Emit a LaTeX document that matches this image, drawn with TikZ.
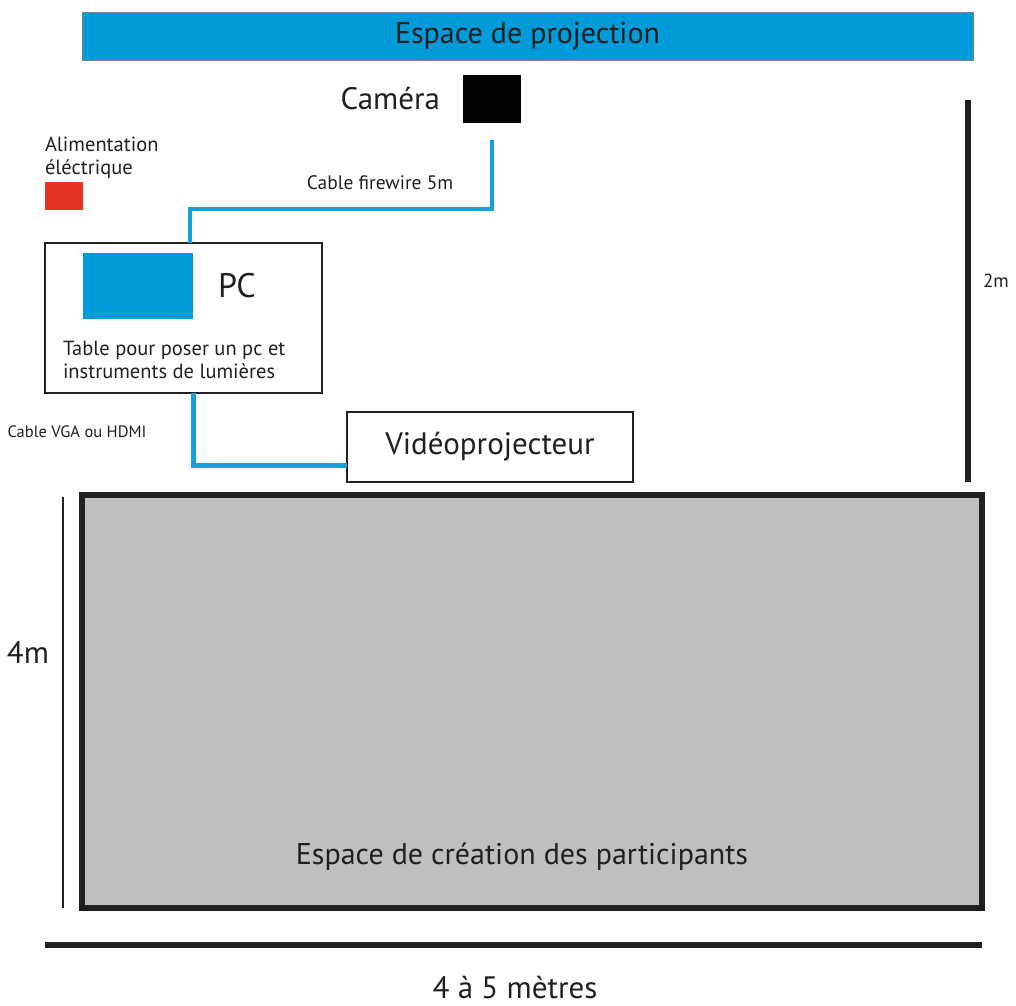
\documentclass[tikz,border=0pt]{standalone}
\usepackage{fontspec}
\setmainfont{PT Sans}
\usetikzlibrary{positioning}
\definecolor{projblue}{RGB}{0,155,216}
\definecolor{cableblue}{RGB}{20,160,218}
\definecolor{powerred}{RGB}{228,50,38}
\definecolor{stagegray}{RGB}{191,191,191}
\definecolor{inkgray}{RGB}{35,31,32}

\begin{document}
\begin{tikzpicture}[
			x=1pt, y=-1pt,
			every node/.style={text=inkgray, inner sep=0pt, outer sep=0pt},
			band/.style={rectangle, fill=projblue, draw=gray, line width=1pt, font=\fontsize{30}{32}\selectfont},
			box/.style={rectangle, draw=inkgray, line width=2.5pt},
			stagebox/.style={rectangle, fill=stagegray, draw=inkgray, line width=6pt},
			biglabel/.style={font=\fontsize{31}{34}\selectfont},
			smalllabel/.style={font=\fontsize{20.5}{23}\selectfont, align=left},
			cable/.style={draw=cableblue, line width=4pt},
			dimline/.style={draw=inkgray}
			]
			\useasboundingbox (0,0) rectangle (1016,1005);
			
			% Nodes
			\node (proj) [band, minimum width=891pt, minimum height=48pt] at (527.5,36) {Espace de projection};
			\node (camera) [fill=black, minimum width=58pt, minimum height=48pt] at (492,99) {};
			\node (cameralabel) [biglabel, left=23pt of camera] {Caméra};
			\node (power) [fill=powerred, minimum width=38pt, minimum height=28pt] at (64,196) {};
			\node (powerlabel) [smalllabel, anchor=south west] at ([yshift=3pt]power.north west) {Alimentation\\éléctrique};
			\node (table) [box, minimum width=277pt, minimum height=150pt] at (183.5,318) {};
			\node (pc) [fill=projblue, minimum width=110pt, minimum height=66pt] at (138,286) {};
			\node (pclabel) [biglabel, font=\fontsize{34}{36}\selectfont, right=25pt of pc] {PC};
			\node (tablelabel) [smalllabel, anchor=north west] at (63,341) {Table pour poser un pc et\\instruments de lumières};
			\node (video) [box, biglabel, minimum width=286pt, minimum height=70pt] at (490,447) {Vidéoprojecteur};
			\node (stage) [stagebox, minimum width=900pt, minimum height=413pt] at (532,701.5) {};
			\node (stagelabel) [biglabel, font=\fontsize{30}{32}\selectfont] at (522,857) {Espace de création des participants};
			\node (fwlabel) [font=\fontsize{19.5}{22}\selectfont] at (380,183) {Cable firewire 5m};
			\node (vgalabel) [font=\fontsize{16.5}{20}\selectfont] at (77,432) {Cable VGA ou HDMI};
			
			% Dimensions
			\coordinate (ytop) at (968,100);
			\coordinate (ybot) at (968,482);
			\coordinate (xtop) at (63,497);
			\coordinate (xbot) at (63,908);
			\coordinate (wleft) at (45,945);
			\coordinate (wright) at (982,945);
			\draw [dimline, line width=6pt] (ytop) -- (ybot);
			\draw [dimline, line width=2pt] (xtop) -- (xbot);
			\draw [dimline, line width=6pt] (wleft) -- (wright);
			\node (ylabel) [font=\fontsize{19}{22}\selectfont] at (996,281) {2m};
			\node (xlabel) [biglabel] at (28,652) {4m};
			\node (wlabel) [biglabel, anchor=base] at (515,998) {4 à 5 mètres};
			
			% Connections
			\coordinate (fwbend) at (190,209);
			\draw [cable, line width=3.5pt] ([yshift=-17pt]camera.south) |- (fwbend) -- (fwbend |- table.north);
			\draw [cable, line width=5pt] ([xshift=3pt]fwbend |- table.south) |- ([yshift=-18pt]video.west);
			
		\end{tikzpicture}
\end{document}
